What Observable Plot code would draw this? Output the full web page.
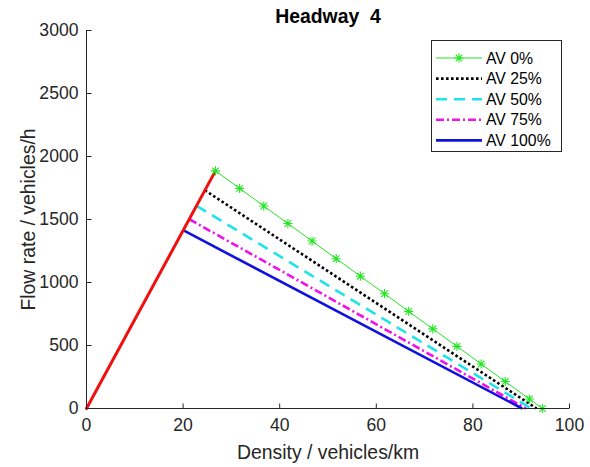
<!DOCTYPE html>
<html><head><meta charset="utf-8">
<script src="https://cdn.jsdelivr.net/npm/d3@7"></script>
<script src="https://cdn.jsdelivr.net/npm/@observablehq/plot@0.6"></script>
<style>
body{margin:0;background:#fff;}
#chart{position:relative;width:590px;height:467px;font-family:"Liberation Sans",Arial,sans-serif;}
#chart svg text{white-space:pre;}
#legend{position:absolute;left:431px;top:40px;}
</style></head><body><div id="chart"></div>
<script>
// ---- data ----
const title = "Headway  4";
const xLabel = "Density / vehicles/km";
const yLabel = "Flow rate / vehicles/h";
const xTicks = [0, 20, 40, 60, 80, 100];
const yTicks = [0, 500, 1000, 1500, 2000, 2500, 3000];
const seriesNames = ["AV 0%", "AV 25%", "AV 50%", "AV 75%", "AV 100%"];
// capacity point (peak) and jam density of each congested branch
const peakDensity = [26.7, 24.5, 22.8, 21.3, 20.0];
const peakFlow = [1886, 1732, 1608, 1502, 1415];
const jamDensity = [94.4, 93.2, 92.1, 91.0, 90.2];
const jamFlow = [0, 0, 0, 0, 0];
// AV 0% sampled points (markers)
const av0Density = [26.7, 31.7, 36.7, 41.7, 46.7, 51.7, 56.7, 61.7, 66.7, 71.7, 76.7, 81.7, 86.7, 91.7, 94.4];
const av0Flow = [1886, 1747, 1607, 1468, 1329, 1189, 1050, 911, 771, 632, 493, 353, 214, 75, 0];
// free-flow branch
const freeDensity = [0, 26.7];
const freeFlow = [0, 1886];

// ---- styles ----
const colors = ["#22e622", "#000000", "#1fe3ea", "#ee11ee", "#1010e0"];
const dashes = [null, "2.6 2.4", "11 7", "8 3 2 3", null];
const widths = [1, 2.6, 2.6, 2.6, 2.6];
const redColor = "#f01010";
const axisColor = "#262626";

const asterisk = {
  draw(ctx) {
    const r = 4.6, d = r * 0.72;
    ctx.moveTo(-r, 0); ctx.lineTo(r, 0);
    ctx.moveTo(0, -r); ctx.lineTo(0, r);
    ctx.moveTo(-d, -d); ctx.lineTo(d, d);
    ctx.moveTo(-d, d); ctx.lineTo(d, -d);
  }
};
const tickUp = {draw(ctx) { ctx.moveTo(0, 0); ctx.lineTo(0, -5); }};
const tickRight = {draw(ctx) { ctx.moveTo(0, 0); ctx.lineTo(5, 0); }};

const branches = [];
for (let i = 1; i < seriesNames.length; i++) {
  branches.push({i, k: peakDensity[i], q: peakFlow[i]});
  branches.push({i, k: jamDensity[i], q: jamFlow[i]});
}
const av0 = av0Density.map((k, j) => ({k, q: av0Flow[j]}));
const free = freeDensity.map((k, j) => ({k, q: freeFlow[j]}));

const congestedMarks = [1, 2, 3, 4].map(i => Plot.line(branches.filter(d => d.i === i), {
  x: "k", y: "q", stroke: colors[i], strokeWidth: widths[i],
  strokeDasharray: dashes[i], strokeLinecap: "butt"
}));

const chart = Plot.plot({
  width: 590, height: 467,
  marginLeft: 86, marginRight: 21, marginTop: 30, marginBottom: 59,
  x: {domain: [0, 100]},
  y: {domain: [0, 3000]},
  style: {fontFamily: "'Liberation Sans', Arial, sans-serif", color: axisColor, background: "white", overflow: "visible"},
  marks: [
    Plot.line(av0, {x: "k", y: "q", stroke: colors[0], strokeWidth: widths[0]}),
    ...congestedMarks,
    Plot.line(free, {x: "k", y: "q", stroke: redColor, strokeWidth: 3}),
    Plot.dot(av0, {x: "k", y: "q", symbol: asterisk, stroke: colors[0], strokeWidth: 1.1}),
    Plot.ruleY([0], {stroke: axisColor, strokeWidth: 1}),
    Plot.ruleX([0], {stroke: axisColor, strokeWidth: 1}),
    Plot.dot(xTicks, {x: d => d, frameAnchor: "bottom", symbol: tickUp, stroke: axisColor, strokeWidth: 1}),
    Plot.dot(yTicks, {y: d => d, frameAnchor: "left", symbol: tickRight, stroke: axisColor, strokeWidth: 1}),
    Plot.axisX({ticks: xTicks, tickSize: 0, tickPadding: 10, fontSize: 17.6, label: null, tickFormat: d3.format("d"), fill: axisColor}),
    Plot.axisY({ticks: yTicks, tickSize: 0, tickPadding: 8, fontSize: 17.6, label: null, tickFormat: d3.format("d"), fill: axisColor}),
    Plot.text([xLabel], {text: d => d, frameAnchor: "bottom", lineAnchor: "middle", textAnchor: "middle", dy: 44, fontSize: 19.4, fill: axisColor}),
    Plot.text([yLabel], {text: d => d, frameAnchor: "left", lineAnchor: "middle", textAnchor: "middle", rotate: -90, dx: -58, fontSize: 19.4, fill: axisColor}),
    Plot.text([title], {text: d => d, frameAnchor: "top", lineAnchor: "middle", textAnchor: "middle", dy: -14, fontSize: 19.4, fontWeight: "bold", fill: "#000"})
  ]
});
document.getElementById("chart").appendChild(chart);

// ---- legend ----
const lw = 130, lh = 111;
const leg = d3.select("#chart").append("svg").attr("id", "legend").attr("width", lw + 1).attr("height", lh + 1);
leg.append("rect").attr("x", 0.5).attr("y", 0.5).attr("width", lw).attr("height", lh)
  .attr("fill", "white").attr("stroke", axisColor).attr("stroke-width", 1);
seriesNames.forEach((name, i) => {
  const y = 18 + i * 20.6;
  leg.append("line").attr("x1", 5).attr("x2", 51).attr("y1", y).attr("y2", y)
    .attr("stroke", colors[i]).attr("stroke-width", widths[i])
    .attr("stroke-dasharray", dashes[i]).attr("stroke-linecap", "butt");
  if (i === 0) {
    leg.append("path").attr("transform", `translate(28,${y})`)
      .attr("d", d3.symbol(asterisk)()).attr("stroke", colors[0]).attr("fill", "none").attr("stroke-width", 1.1);
  }
  leg.append("text").attr("x", 55).attr("y", y).attr("dy", "0.35em")
    .attr("font-size", 15.8).attr("fill", "#000").text(name);
});
</script></body></html>
